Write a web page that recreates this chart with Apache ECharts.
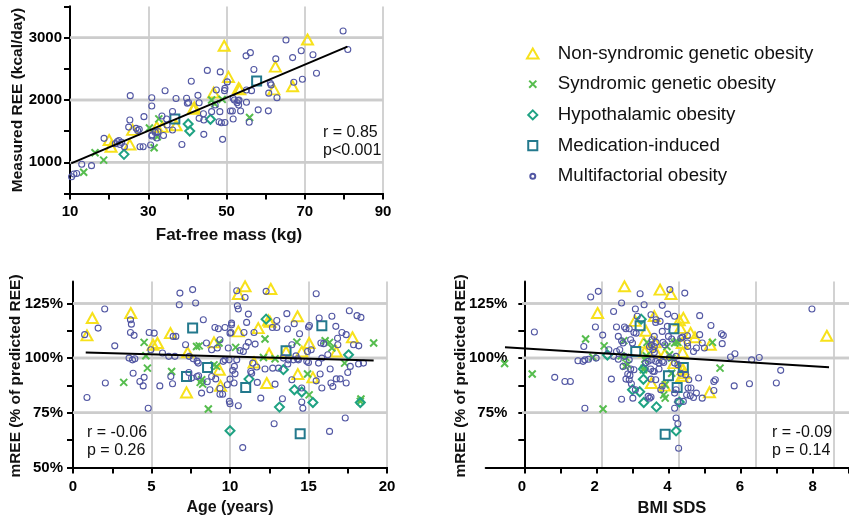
<!DOCTYPE html>
<html><head><meta charset="utf-8">
<script src="https://cdn.jsdelivr.net/npm/echarts@6/dist/echarts.min.js"></script>
<style>html,body{margin:0;padding:0;background:#fff}#c{width:849px;height:520px}</style>
</head><body><div id="c"></div>
<script>
// ---------- categories ----------
const groupNames = ['Non-syndromic genetic obesity','Syndromic genetic obesity','Hypothalamic obesity','Medication-induced','Multifactorial obesity'];

// ---------- Panel 1: Fat-free mass (kg) vs Measured REE (kcal/day) ----------
const p1_nonsyn = [[49.4,2870],[70.7,2970],[50.5,2370],[46.7,2120],[53.1,2190],[53.4,2170],[62.5,2535],[62.1,2170],[66.9,2220],[41.5,1860],[41.8,1880],[37.1,1595],[32.2,1570],[33.6,1570],[26.0,1520],[20.0,1358],[20.5,1250],[25.3,1285]];
const p1_syn = [[46.2,2000],[47.0,1938],[48.9,2010],[55.9,1720],[32.7,1697],[30.3,1550],[32.3,1410],[31.5,1233],[16.4,1155],[18.6,1035],[13.5,842]];
const p1_hypo = [[23.8,1128],[40.2,1615],[40.6,1502],[45.9,1690]];
const p1_med = [[36.8,1695],[57.7,2305]];
const p1_multi = [[79.8,3107],[81.0,2810],[65.2,2962],[56.1,2760],[55.0,2708],[69.1,2790],[66.9,2680],[72.1,2725],[62.6,2660],[73.0,2430],[69.4,2333],[67.2,2284],[62.9,2037],[60.8,2110],[61.2,2268],[61.4,2242],[60.7,1826],[58.1,1842],[57.0,2490],[45.1,2475],[48.4,2451],[50.2,2290],[41.0,2300],[34.3,2148],[30.9,1904],[30.9,2037],[25.4,2070],[37.1,2025],[39.8,2027],[40.0,1947],[40.3,1960],[42.7,2075],[43.0,1957],[43.0,1706],[44.2,1679],[44.2,1449],[48.1,1652],[48.7,1636],[49.0,1369],[38.6,1287],[36.2,1815],[36.2,1519],[34.7,1695],[33.5,1743],[28.9,1733],[32.5,1492],[30.9,1422],[30.6,1278],[28.7,1251],[27.9,1250],[27.7,1529],[26.9,1545],[25.0,1565],[25.3,1679],[22.1,1332],[22.8,1285],[21.6,1300],[23.9,1251],[22.5,1350],[18.7,1385],[15.5,947],[13.0,970],[11.7,820],[11.0,813],[10.4,768],[51.7,2027],[53.2,2000],[52.7,1957],[53.1,1920],[51.5,1824],[51.0,1824],[51.7,1695],[53.6,1824],[55.1,1963],[55.8,1642],[55.1,2160],[56.4,2150],[47.4,2160],[47.1,1920],[46.2,1813],[48.3,1813],[49.6,2187],[49.5,2150],[31.0,1440],[31.8,1480],[32.2,1390],[34.8,1600],[33.9,1430],[44.1,1780],[27.3,1510],[53.0,1990],[52.0,2000],[49.6,1640],[23.2,1320]];
const p1_fit = [[10.3,984],[80.9,2856]];

// ---------- Panel 2: Age (years) vs mREE (%) ----------
const p2_nonsyn = [[1.23,118.3],[0.89,110.4],[3.68,120.6],[5.1,106.1],[5.38,106.9],[6.21,111.4],[7.3,102.6],[7.23,84.3],[8.98,107.2],[9.32,94.7],[9.4,87.3],[10.96,132.8],[10.53,129.3],[12.6,131.6],[12.45,117.2],[12.55,116.6],[14.3,119.1],[11.8,113.7],[10.53,112.2],[15.04,106.9],[17.8,109.5],[16.77,103.0],[14.57,103.0],[13.57,103.0],[12.49,102.0],[11.53,98.0],[14.32,92.7],[15.28,91.2],[12.34,88.6]];
const p2_syn = [[4.53,107.2],[4.64,101.1],[4.74,95.4],[3.23,88.9],[6.28,93.9],[7.87,105.3],[8.04,105.6],[8.2,90.1],[8.1,88.9],[8.26,88.1],[8.62,76.7],[8.98,96.9],[9.15,96.2],[9.3,106.9],[10.36,104.9],[12.23,108.7],[12.13,100.3],[12.87,99.7],[14.26,107.3],[14.94,92.7],[15.04,83.2],[16.06,107.9],[16.34,107.2],[16.49,104.6],[17.3,97.7],[19.15,106.9],[18.34,81.3],[18.3,80.2]];
const p2_hypo = [[12.3,117.8],[17.55,101.5],[13.4,94.7],[11.21,90.4],[14.1,85.5],[14.57,84.5],[15.28,79.7],[13.15,77.6],[18.3,79.7],[10.0,66.8]];
const p2_med = [[7.62,113.7],[8.57,95.7],[7.23,91.6],[15.85,114.8],[13.57,103.4],[11.0,86.6],[14.47,65.4]];
const p2_multi = [[0.74,110.7],[0.89,82.0],[2.02,122.4],[1.6,113.7],[2.66,105.6],[2.06,88.6],[3.66,117.5],[3.72,115.5],[3.66,111.7],[3.89,110.4],[3.57,100.0],[3.79,99.2],[3.94,99.7],[3.83,93.1],[4.26,89.3],[4.53,91.2],[4.47,87.3],[4.79,77.1],[4.85,111.7],[5.17,111.4],[4.96,103.8],[5.7,102.3],[6.1,100.8],[6.49,100.8],[6.38,109.9],[6.55,109.9],[6.81,129.7],[7.62,131.3],[6.77,124.4],[7.81,125.2],[6.23,91.6],[6.34,88.3],[7.17,106.1],[7.4,100.8],[7.66,99.7],[7.9,98.6],[7.98,97.7],[7.38,93.4],[7.55,90.9],[7.9,91.6],[8.0,91.9],[8.3,117.5],[8.5,106.9],[8.83,103.8],[9.19,104.6],[9.36,108.4],[9.04,114.0],[9.26,113.4],[9.68,114.0],[10.1,116.0],[10.0,111.4],[9.89,104.6],[9.94,99.2],[9.68,99.2],[9.57,98.5],[10.0,90.4],[9.83,87.8],[9.53,83.5],[9.36,83.5],[9.96,80.2],[10.0,79.1],[9.36,86.1],[8.83,91.6],[8.55,89.2],[9.09,90.5],[8.19,84.0],[8.72,85.5],[5.53,87.3],[10.43,130.8],[10.96,127.7],[12.3,130.5],[15.49,129.4],[10.47,123.9],[10.53,122.4],[11.17,120.1],[11.06,116.3],[10.1,115.2],[10.06,111.7],[10.89,111.7],[11.53,111.7],[12.7,114.0],[12.98,114.0],[12.98,117.2],[13.62,120.3],[14.09,115.7],[13.66,113.3],[14.43,111.1],[15.0,114.2],[15.06,114.9],[15.68,118.3],[16.49,119.1],[17.6,121.6],[18.09,119.4],[18.34,118.6],[16.74,114.5],[17.13,111.7],[17.4,110.7],[16.85,109.1],[15.79,106.9],[16.23,101.5],[16.87,106.1],[17.87,106.1],[17.66,96.2],[18.19,97.3],[16.38,95.0],[15.74,92.7],[15.49,89.6],[15.85,86.3],[16.43,88.6],[16.55,87.0],[16.77,90.5],[17.02,90.5],[17.4,88.6],[17.34,72.6],[16.34,66.5],[14.94,103.0],[15.17,103.8],[14.89,98.5],[15.0,98.0],[14.36,99.2],[13.94,106.1],[14.04,99.2],[14.3,99.7],[14.2,101.0],[13.72,99.2],[13.4,100.0],[13.09,95.4],[12.72,95.4],[12.23,95.0],[11.7,95.9],[11.45,97.7],[11.32,93.9],[11.38,93.1],[10.43,99.2],[10.28,96.2],[10.17,94.4],[10.32,92.8],[10.26,88.6],[11.74,88.9],[12.87,88.1],[13.34,81.4],[11.96,81.7],[10.53,78.2],[14.57,79.9],[14.64,77.1],[14.57,86.3],[13.94,90.1],[12.81,70.0],[10.81,59.1],[11.6,106.4],[11.17,107.2],[11.02,105.3],[10.64,103.4],[10.85,103.0],[13.68,97.3],[15.64,97.7],[15.85,100.0],[15.96,106.6],[18.2,105.6],[18.5,97.7],[17.5,93.4]];
const p2_fit = [[0.81,102.6],[19.15,98.9]];

// ---------- Panel 3: BMI SDS vs mREE (%) ----------
const p3_nonsyn = [[2.82,132.8],[3.8,131.3],[4.1,129.3],[2.08,120.6],[3.11,117.0],[3.64,119.2],[3.41,112.5],[4.33,117.3],[4.44,118.4],[4.36,113.8],[4.64,111.5],[4.76,109.5],[3.35,107.2],[3.66,107.2],[4.41,106.9],[5.18,106.1],[3.38,103.0],[3.68,103.0],[3.93,101.8],[4.42,102.7],[4.18,97.7],[4.43,94.9],[4.46,93.1],[4.4,91.8],[3.56,88.6],[3.92,87.4],[5.16,84.4],[8.39,110.2]];
const p3_syn = [[-0.48,97.5],[0.28,92.7],[1.75,108.7],[2.26,105.6],[1.95,100.4],[2.23,76.7],[2.8,108.0],[2.73,101.1],[2.86,100.3],[2.91,97.0],[2.84,96.2],[3.44,107.2],[3.42,101.1],[3.38,99.5],[3.36,95.4],[3.34,94.7],[4.25,107.6],[4.29,107.2],[4.2,106.9],[3.99,105.3],[4.06,101.5],[4.12,100.0],[3.94,87.8],[3.9,83.2],[3.94,81.7],[5.24,107.2],[5.45,95.4],[4.12,93.1]];
const p3_hypo = [[3.28,117.8],[2.35,101.4],[3.04,85.5],[3.24,84.6],[3.35,79.7],[3.7,77.7],[4.33,79.9],[4.24,66.7],[3.34,90.3],[3.34,95.0]];
const p3_med = [[3.25,114.8],[3.13,103.0],[4.18,113.4],[4.44,95.7],[4.03,91.9],[4.27,86.6],[3.94,65.2]];
const p3_multi = [[0.34,111.9],[0.9,91.2],[1.18,89.3],[1.33,89.3],[1.73,77.1],[1.54,98.8],[1.68,98.5],[1.73,99.2],[1.83,99.5],[1.7,105.3],[2.04,100.0],[1.89,127.9],[2.1,130.5],[2.02,114.2],[2.22,110.5],[2.46,90.4],[2.52,121.3],[2.74,125.2],[2.6,114.2],[2.82,114.2],[2.86,113.4],[2.95,113.4],[2.74,81.2],[3.05,81.7],[3.25,129.4],[3.36,124.4],[3.12,122.4],[3.08,111.7],[3.14,111.4],[3.17,119.1],[2.65,109.9],[2.74,107.9],[2.78,106.9],[2.6,103.0],[2.69,103.8],[2.99,108.4],[3.04,106.9],[2.39,103.8],[2.52,100.8],[2.65,99.5],[2.82,100.8],[2.95,99.2],[2.99,95.0],[3.08,94.7],[2.91,92.7],[2.97,92.1],[2.78,96.2],[2.86,90.4],[2.95,90.1],[3.01,88.3],[3.12,85.5],[3.47,82.5],[3.55,82.2],[3.54,95.0],[3.6,94.0],[3.4,97.7],[3.47,98.5],[3.57,99.2],[3.51,105.3],[3.64,105.3],[3.68,116.3],[3.64,109.9],[4.48,129.7],[3.86,124.1],[4.07,131.3],[4.01,120.1],[3.55,119.8],[4.2,119.1],[4.89,119.4],[5.2,114.9],[5.49,111.1],[5.54,110.4],[4.89,110.7],[4.96,106.9],[5.02,104.6],[4.8,104.6],[5.51,106.6],[4.55,106.9],[4.56,105.3],[4.72,103.0],[4.24,100.8],[4.06,100.3],[3.86,98.5],[3.9,98.0],[3.77,97.7],[3.6,103.8],[3.64,102.6],[3.68,98.5],[4.2,97.7],[4.29,97.0],[4.37,93.1],[4.5,92.4],[4.59,90.1],[4.86,90.9],[4.65,86.3],[4.53,83.2],[4.72,82.0],[4.44,80.2],[4.29,80.2],[4.2,77.1],[4.24,72.6],[4.29,70.0],[4.31,58.8],[4.57,86.3],[5.28,89.3],[5.32,90.1],[5.28,85.2],[5.84,87.3],[5.74,100.5],[5.86,102.0],[6.26,88.3],[6.32,99.2],[6.53,100.3],[7.0,88.6],[7.12,94.4],[7.98,122.4],[4.0,114.5],[3.8,116.8],[3.69,117.5],[3.86,112.2],[4.03,109.9],[4.12,108.7],[3.58,108.4],[3.69,107.2],[3.56,106.1],[3.88,107.2],[3.93,106.1],[4.37,109.1],[4.42,109.6],[4.55,110.2],[3.64,93.9],[3.77,95.0],[3.68,90.1],[3.55,90.4],[3.86,87.2],[3.82,85.5],[3.51,81.7],[4.24,85.5],[4.2,84.0],[4.8,84.0],[4.63,82.8],[4.96,81.7]];
const p3_fit = [[-0.47,105.0],[8.45,95.8]];

// ---------- tick labels, grid lines, tick steps ----------
const p1_xLabels = [10,30,50,70,90];
const p1_yLabels = [1000,2000,3000];
const p2_xLabels = [0,5,10,15,20];
const p2_yLabels = [50,75,100,125];
const p3_xLabels = [0,2,4,6,8];
const p3_yLabels = [75,100,125];
const p1_xGrid = [30,90,20];
const p2_xGrid = [5,20,5];
const p3_xGrid = [2,8,2];
const p1_yGridVals = [1000,2000,3000];
const p2_yGridVals = [75,100,125];
const p3_yGridVals = [75,100,125];
const p1_xTicks = [10,90,10], p1_yTicks = [500,3500,500];
const p2_xTicks = [0,20,2.5], p2_yTicks = [50,125,12.5];
const p3_xTicks = [0,9,1],    p3_yTicks = [50,125,12.5];

// ---------- texts ----------
const statTexts = [['r = 0.85','p<0.001'],['r = -0.06','p = 0.26'],['r = -0.09','p = 0.14']];
const axisTitles = {p1x:'Fat-free mass (kg)', p1y:'Measured REE (kcal/day)', p2x:'Age (years)', p2y:'mREE (% of predicted REE)', p3x:'BMI SDS', p3y:'mREE (% of predicted REE)'};

// ---------- styling ----------
const FF = "'Liberation Sans', Arial, sans-serif";
const styles = [
  {symbol:'triangle', size:[11,10], color:'#F7E11B', bw:2, icon:'path://M5,0L10,8.66L0,8.66Z'},
  {symbol:'path://M0,0L10,10M10,0L0,10', size:7, color:'#56BD4E', bw:2, icon:'path://M-2,-2M12,12M0,0L10,10M10,0L0,10'},
  {symbol:'diamond', size:9, color:'#1FA283', bw:2, icon:'path://M-0.5,-0.5M10.5,10.5M5,0L10,5L5,10L0,5Z'},
  {symbol:'rect', size:9, color:'#23798D', bw:2, icon:'path://M-0.5,-0.5M10.5,10.5M0,0L10,0L10,10L0,10Z'},
  {symbol:'circle', size:6, color:'#5257A3', bw:1.1, icon:'path://M0,0M10,10M7.5,5A2.5,2.5,0,1,1,2.5,5A2.5,2.5,0,1,1,7.5,5Z'}
];
const panelData = [
  [p1_nonsyn,p1_syn,p1_hypo,p1_med,p1_multi],
  [p2_nonsyn,p2_syn,p2_hypo,p2_med,p2_multi],
  [p3_nonsyn,p3_syn,p3_hypo,p3_med,p3_multi]
];
const fits = [p1_fit,p2_fit,p3_fit];

const GRID = '#d2d2d2';
const HGRID = '#cccccc';
const lineStyleAxis = {color:'#000', width:2};
const grids = [], xAxes = [], yAxes = [], series = [];
const pct = v => v + '%';
const plain = v => String(v);

const panels = [
  {rect:{left:70, top:6.5, width:313, height:187}, xr:[10,90], yr:[500,3500],
   xl:p1_xLabels, yl:p1_yLabels, xg:p1_xGrid, yg:p1_yGridVals, hx:[10,90], xt:p1_xTicks, yt:p1_yTicks, yfmt:plain, xm:11, ym:8, yAt:10},
  {rect:{left:73, top:281.5, width:314, height:186}, xr:[0,20], yr:[50,135],
   xl:p2_xLabels, yl:p2_yLabels, xg:p2_xGrid, yg:p2_yGridVals, hx:[0,20], xt:p2_xTicks, yt:p2_yTicks, yfmt:pct, xm:12, ym:10, yAt:0},
  {rect:{left:485.7, top:281.5, width:386.3, height:186}, xr:[-1,9], yr:[50,135],
   xl:p3_xLabels, yl:p3_yLabels, xg:p3_xGrid, yg:p3_yGridVals, hx:[0,9], xt:p3_xTicks, yt:p3_yTicks, yfmt:pct, xm:12, ym:17, yAt:0}
];

function addGridAxes(rect, xa, ya) {
  const gi = grids.length;
  grids.push(rect);
  xa.gridIndex = gi; ya.gridIndex = gi;
  xAxes.push(xa); yAxes.push(ya);
  return gi;
}
const hiddenAxis = (min, max) => ({type:'value', show:false, min, max});
function splitAxis(range) {
  return {type:'value', min:range[0], max:range[1], interval:range[2],
    axisLine:{show:false}, axisTick:{show:false}, axisLabel:{show:false},
    splitLine:{show:true, showMinLine:true, showMaxLine:true, lineStyle:{color:GRID, width:2}}};
}
function tickAxis(range) {
  return {type:'value', min:range[0], max:range[1], interval:range[2],
    axisLine:{show:true, onZero:false, lineStyle:lineStyleAxis},
    axisTick:{show:true, length:6, lineStyle:{color:'#000', width:2}},
    axisLabel:{show:false}, splitLine:{show:false}};
}
function mainAxis(min, max, labels, fmt, margin, offset) {
  return {type:'value', min, max, offset:offset||0,
    axisLine:{show:true, onZero:false, lineStyle:lineStyleAxis},
    axisTick:{show:false},
    axisLabel:{customValues:labels, formatter:fmt, color:'#000', fontWeight:'bold', fontSize:15, fontFamily:FF, margin},
    splitLine:{show:false}};
}

const mainIdx = [];
panels.forEach((P, p) => {
  const r = P.rect;
  const px = v => r.left + (v - P.xr[0]) / (P.xr[1] - P.xr[0]) * r.width;
  const py = v => r.top + (P.yr[1] - v) / (P.yr[1] - P.yr[0]) * r.height;
  const yLinePx = px(P.yAt);
  const extra = [];
  extra.push(addGridAxes({left:px(P.xg[0]), top:r.top, width:px(P.xg[1]) - px(P.xg[0]), height:r.height},
    splitAxis(P.xg), hiddenAxis(P.yr[0], P.yr[1])));
  extra.push(addGridAxes({left:px(P.xt[0]), top:py(P.yt[1]), width:px(P.xt[1]) - px(P.xt[0]), height:py(P.yt[0]) - py(P.yt[1])},
    tickAxis(P.xt), tickAxis(P.yt)));
  const gi = addGridAxes(Object.assign({}, r),
    mainAxis(P.xr[0], P.xr[1], P.xl, plain, P.xm),
    mainAxis(P.yr[0], P.yr[1], P.yl, P.yfmt, P.ym, -(yLinePx - r.left)));
  mainIdx.push(gi);
  extra.forEach(ai => series.push({type:'scatter', data:[], xAxisIndex:ai, yAxisIndex:ai, silent:true}));
  P.yg.forEach(v => series.push({type:'line', name:'h'+p+'_'+v, xAxisIndex:gi, yAxisIndex:gi,
    data:[[P.hx[0], v],[P.hx[1], v]], symbol:'none', silent:true, z:2, clip:false,
    lineStyle:{color:HGRID, width:2.5}}));
});

panelData.forEach((groups, p) => {
  const ai = mainIdx[p];
  groups.forEach((data, k) => {
    const s = styles[k];
    series.push({type:'scatter', name:groupNames[k], xAxisIndex:ai, yAxisIndex:ai, data,
      symbol:s.symbol, symbolSize:s.size, z:3,
      itemStyle:{color:'rgba(255,255,255,0)', borderColor:s.color, borderWidth:s.bw, opacity:1},
      emphasis:{disabled:true}});
  });
  series.push({type:'line', name:'fit'+p, xAxisIndex:ai, yAxisIndex:ai, data:fits[p],
    symbol:'none', lineStyle:{color:'#000', width:2}, z:5, silent:true});
});

const graphic = [];
function addText(text, x, y, size, bold, rot, align) {
  graphic.push({type:'text', x, y, rotation:rot||0, silent:true,
    style:{text, font:(bold?'bold ':'') + size + 'px ' + FF, fill:'#111', align:align||'center', verticalAlign:'middle'}});
}
addText(axisTitles.p1x, 229, 235, 17, true);
addText(axisTitles.p1y, 18, 100, 15.5, true, Math.PI/2);
addText(axisTitles.p2x, 230, 508, 16, true);
addText(axisTitles.p2y, 16, 376, 15.5, true, Math.PI/2);
addText(axisTitles.p3x, 672, 508, 16.5, true);
addText(axisTitles.p3y, 461, 376, 15.5, true, Math.PI/2);
const statPos = [[323,133],[87,433],[772,433]];
statTexts.forEach((t, i) => {
  addText(t[0], statPos[i][0], statPos[i][1], 16, false, 0, 'left');
  addText(t[1], statPos[i][0], statPos[i][1] + 18, 16, false, 0, 'left');
});

const legendData = groupNames.map((n, k) => ({name:n, icon:styles[k].icon}));

const option = {
  animation:false,
  backgroundColor:'#fff',
  grid:grids,
  xAxis:xAxes,
  yAxis:yAxes,
  legend:{orient:'vertical', left:526, top:43.5, padding:0, itemWidth:40, itemHeight:10, itemGap:10.7,
    data:legendData, selectedMode:false, symbolKeepAspect:true,
    textStyle:{fontSize:18.7, lineHeight:20, color:'#111', fontFamily:FF}},
  graphic,
  series
};
const chart = echarts.init(document.getElementById('c'));
chart.setOption(option);

const gridGraphics = [];
panels.forEach((P, p) => {
  const gi = mainIdx[p];
  P.yg.forEach(v => {
    const a = chart.convertToPixel({xAxisIndex:gi, yAxisIndex:gi}, [P.hx[0], v]);
    const b = chart.convertToPixel({xAxisIndex:gi, yAxisIndex:gi}, [P.hx[1], v]);
    if (a && b) gridGraphics.push({type:'line', z:1, silent:true,
      shape:{x1:a[0], y1:a[1], x2:b[0], y2:b[1]}, style:{stroke:HGRID, lineWidth:2.5}});
  });
});
chart.setOption({graphic: graphic.concat(gridGraphics)});
</script></body></html>
